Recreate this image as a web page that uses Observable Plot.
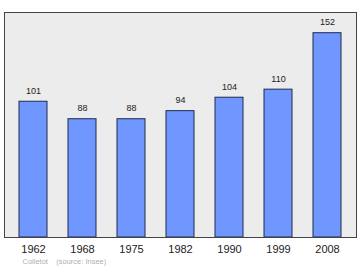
<!DOCTYPE html>
<html>
<head>
<meta charset="utf-8">
<script src="https://cdn.jsdelivr.net/npm/d3@7"></script>
<script src="https://cdn.jsdelivr.net/npm/@observablehq/plot@0.6"></script>
<style>
  body { margin: 0; background: #fff; }
  svg { display: block; }
</style>
</head>
<body>
<div id="chart"></div>
<script>
const years = ["1962", "1968", "1975", "1982", "1990", "1999", "2008"];
const population = [101, 88, 88, 94, 104, 110, 152];
const captionText = "Colletot    (source: Insee)";

const data = years.map((y, i) => ({year: y, pop: population[i]}));

const chart = Plot.plot({
  width: 360,
  height: 270,
  marginLeft: 4,
  marginRight: 4,
  marginTop: 12,
  marginBottom: 33,
  style: {fontFamily: "'Liberation Sans', Arial, sans-serif", background: "#fff"},
  x: {domain: years, paddingInner: 0.43, paddingOuter: 0.29, label: null},
  y: {domain: [0, 167.4], axis: null},
  marks: [
    Plot.frame({fill: "#ececec", stroke: "none"}),
    Plot.barY(data, {x: "year", y: "pop", fill: "#6f97ff", stroke: "#1f2a4d", strokeWidth: 1}),
    Plot.text(data, {x: "year", y: "pop", text: d => String(d.pop), dy: -11, fontSize: 9, fill: "#222"}),
    Plot.frame({stroke: "#444", strokeWidth: 1}),
    Plot.axisX({tickSize: 0, tickPadding: 8, fontSize: 11, color: "#222", label: null}),
    Plot.text([captionText], {frameAnchor: "bottom-left", text: d => d, dx: 18, dy: 26, fontSize: 7.5, fill: "#b0b0b0", textAnchor: "start"})
  ]
});
document.getElementById("chart").appendChild(chart);
</script>
</body>
</html>
